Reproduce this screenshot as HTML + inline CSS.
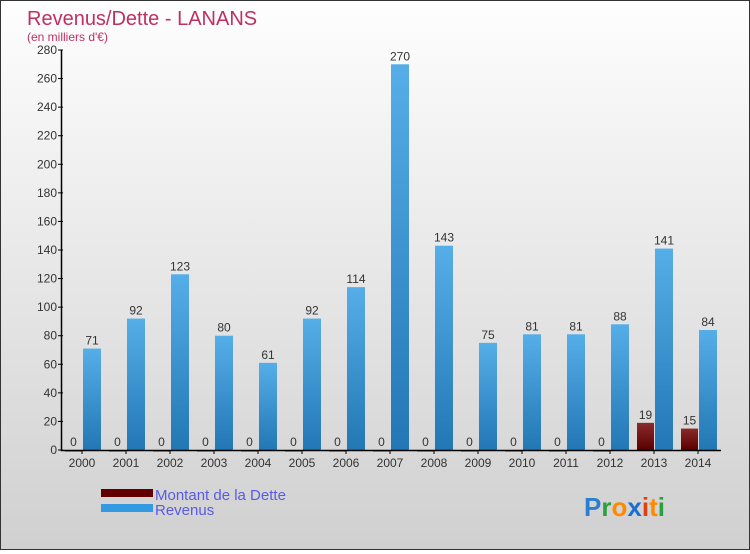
<!DOCTYPE html>
<html><head><meta charset="utf-8"><style>
body{margin:0;width:750px;height:550px;overflow:hidden;font-family:"Liberation Sans",sans-serif}
#wrap{position:relative;width:748px;height:548px;border:1px solid #333;background:linear-gradient(#fefefe,#d0d0d0)}
</style></head><body>
<div id="wrap">
<svg id="chart" width="748" height="548"></svg>
</div>
<script>
const years=["2000","2001","2002","2003","2004","2005","2006","2007","2008","2009","2010","2011","2012","2013","2014"];
const dette=[0,0,0,0,0,0,0,0,0,0,0,0,0,19,15];
const revenus=[71,92,123,80,61,92,114,270,143,75,81,81,88,141,84];
const yTicks=[0,20,40,60,80,100,120,140,160,180,200,220,240,260,280];
const NS="http://www.w3.org/2000/svg";
const svg=document.getElementById('chart');
function y(v){return 449-v*400/280;}
function x(i){return 81+i*44;}
function mk(t,a,p){const e=document.createElementNS(NS,t);for(const k in a)e.setAttribute(k,a[k]);(p||svg).appendChild(e);return e;}
const defs=mk('defs',{});
const g1=mk('linearGradient',{id:'gb',x1:0,y1:0,x2:0,y2:1},defs);
mk('stop',{offset:'0','stop-color':'#56aee8'},g1);mk('stop',{offset:'1','stop-color':'#2277b4'},g1);
const g2=mk('linearGradient',{id:'gd',x1:0,y1:0,x2:0,y2:1},defs);
mk('stop',{offset:'0','stop-color':'#8a2a2a'},g2);mk('stop',{offset:'1','stop-color':'#5a0000'},g2);
let t=mk('text',{x:26,y:24,'font-size':20,fill:'#c0305f'});t.textContent='Revenus/Dette - LANANS';


t=mk('text',{x:26,y:40,'font-size':12,fill:'#c0305f'});t.textContent="(en milliers d'€)";


yTicks.forEach(v=>{
 const l=mk('line',{x1:57,x2:62,y1:y(v),y2:y(v),stroke:'#000'});
 const tx=mk('text',{x:56,y:y(v)+4,'font-size':12,fill:'#333','text-anchor':'end'});tx.textContent=v;
 
 
});
years.forEach((yr,i)=>{
 const cx=x(i);
 let b=mk('rect',{x:cx-17,y:y(dette[i]),width:17,height:Math.max(1.5,dette[i]*400/280),fill:'url(#gd)'});
 
 
 let l=mk('text',{x:cx-8.5,y:y(dette[i])-4,'font-size':12,fill:'#333','text-anchor':'middle'});l.textContent=dette[i];
 
 
 b=mk('rect',{x:cx+1,y:y(revenus[i]),width:18,height:revenus[i]*400/280,fill:'url(#gb)'});
 
 
 l=mk('text',{x:cx+10,y:y(revenus[i])-4,'font-size':12,fill:'#333','text-anchor':'middle'});l.textContent=revenus[i];
 
 
 mk('line',{x1:cx,x2:cx,y1:449,y2:453,stroke:'#000'});
 l=mk('text',{x:cx,y:466,'font-size':12,fill:'#333','text-anchor':'middle'});l.textContent=yr;
 
 
});
mk('line',{x1:60.5,x2:60.5,y1:49,y2:450,stroke:'#000','stroke-width':1.5});
mk('line',{x1:60,x2:720,y1:449.5,y2:449.5,stroke:'#000','stroke-width':1.5});
let r=mk('rect',{x:100,y:488,width:52,height:8,fill:'#600000'});


r=mk('rect',{x:100,y:503,width:52,height:8,fill:'#3399e0'});


t=mk('text',{x:154,y:499,'font-size':15,fill:'#5a5ae6'});t.textContent='Montant de la Dette';


t=mk('text',{x:154,y:514,'font-size':15,fill:'#5a5ae6'});t.textContent='Revenus';


const logo=mk('text',{x:583,y:515,'font-size':26,'font-weight':'bold'});


[['P','#2a7fd0'],['r','#2aa040'],['o','#ff8a00'],['x','#1a6fd0'],['i','#e04010'],['t','#ff8a00'],['i','#2aa040']].forEach(([c,f])=>{const s=mk('tspan',{fill:f},logo);s.textContent=c;});
</script>
</body></html>
